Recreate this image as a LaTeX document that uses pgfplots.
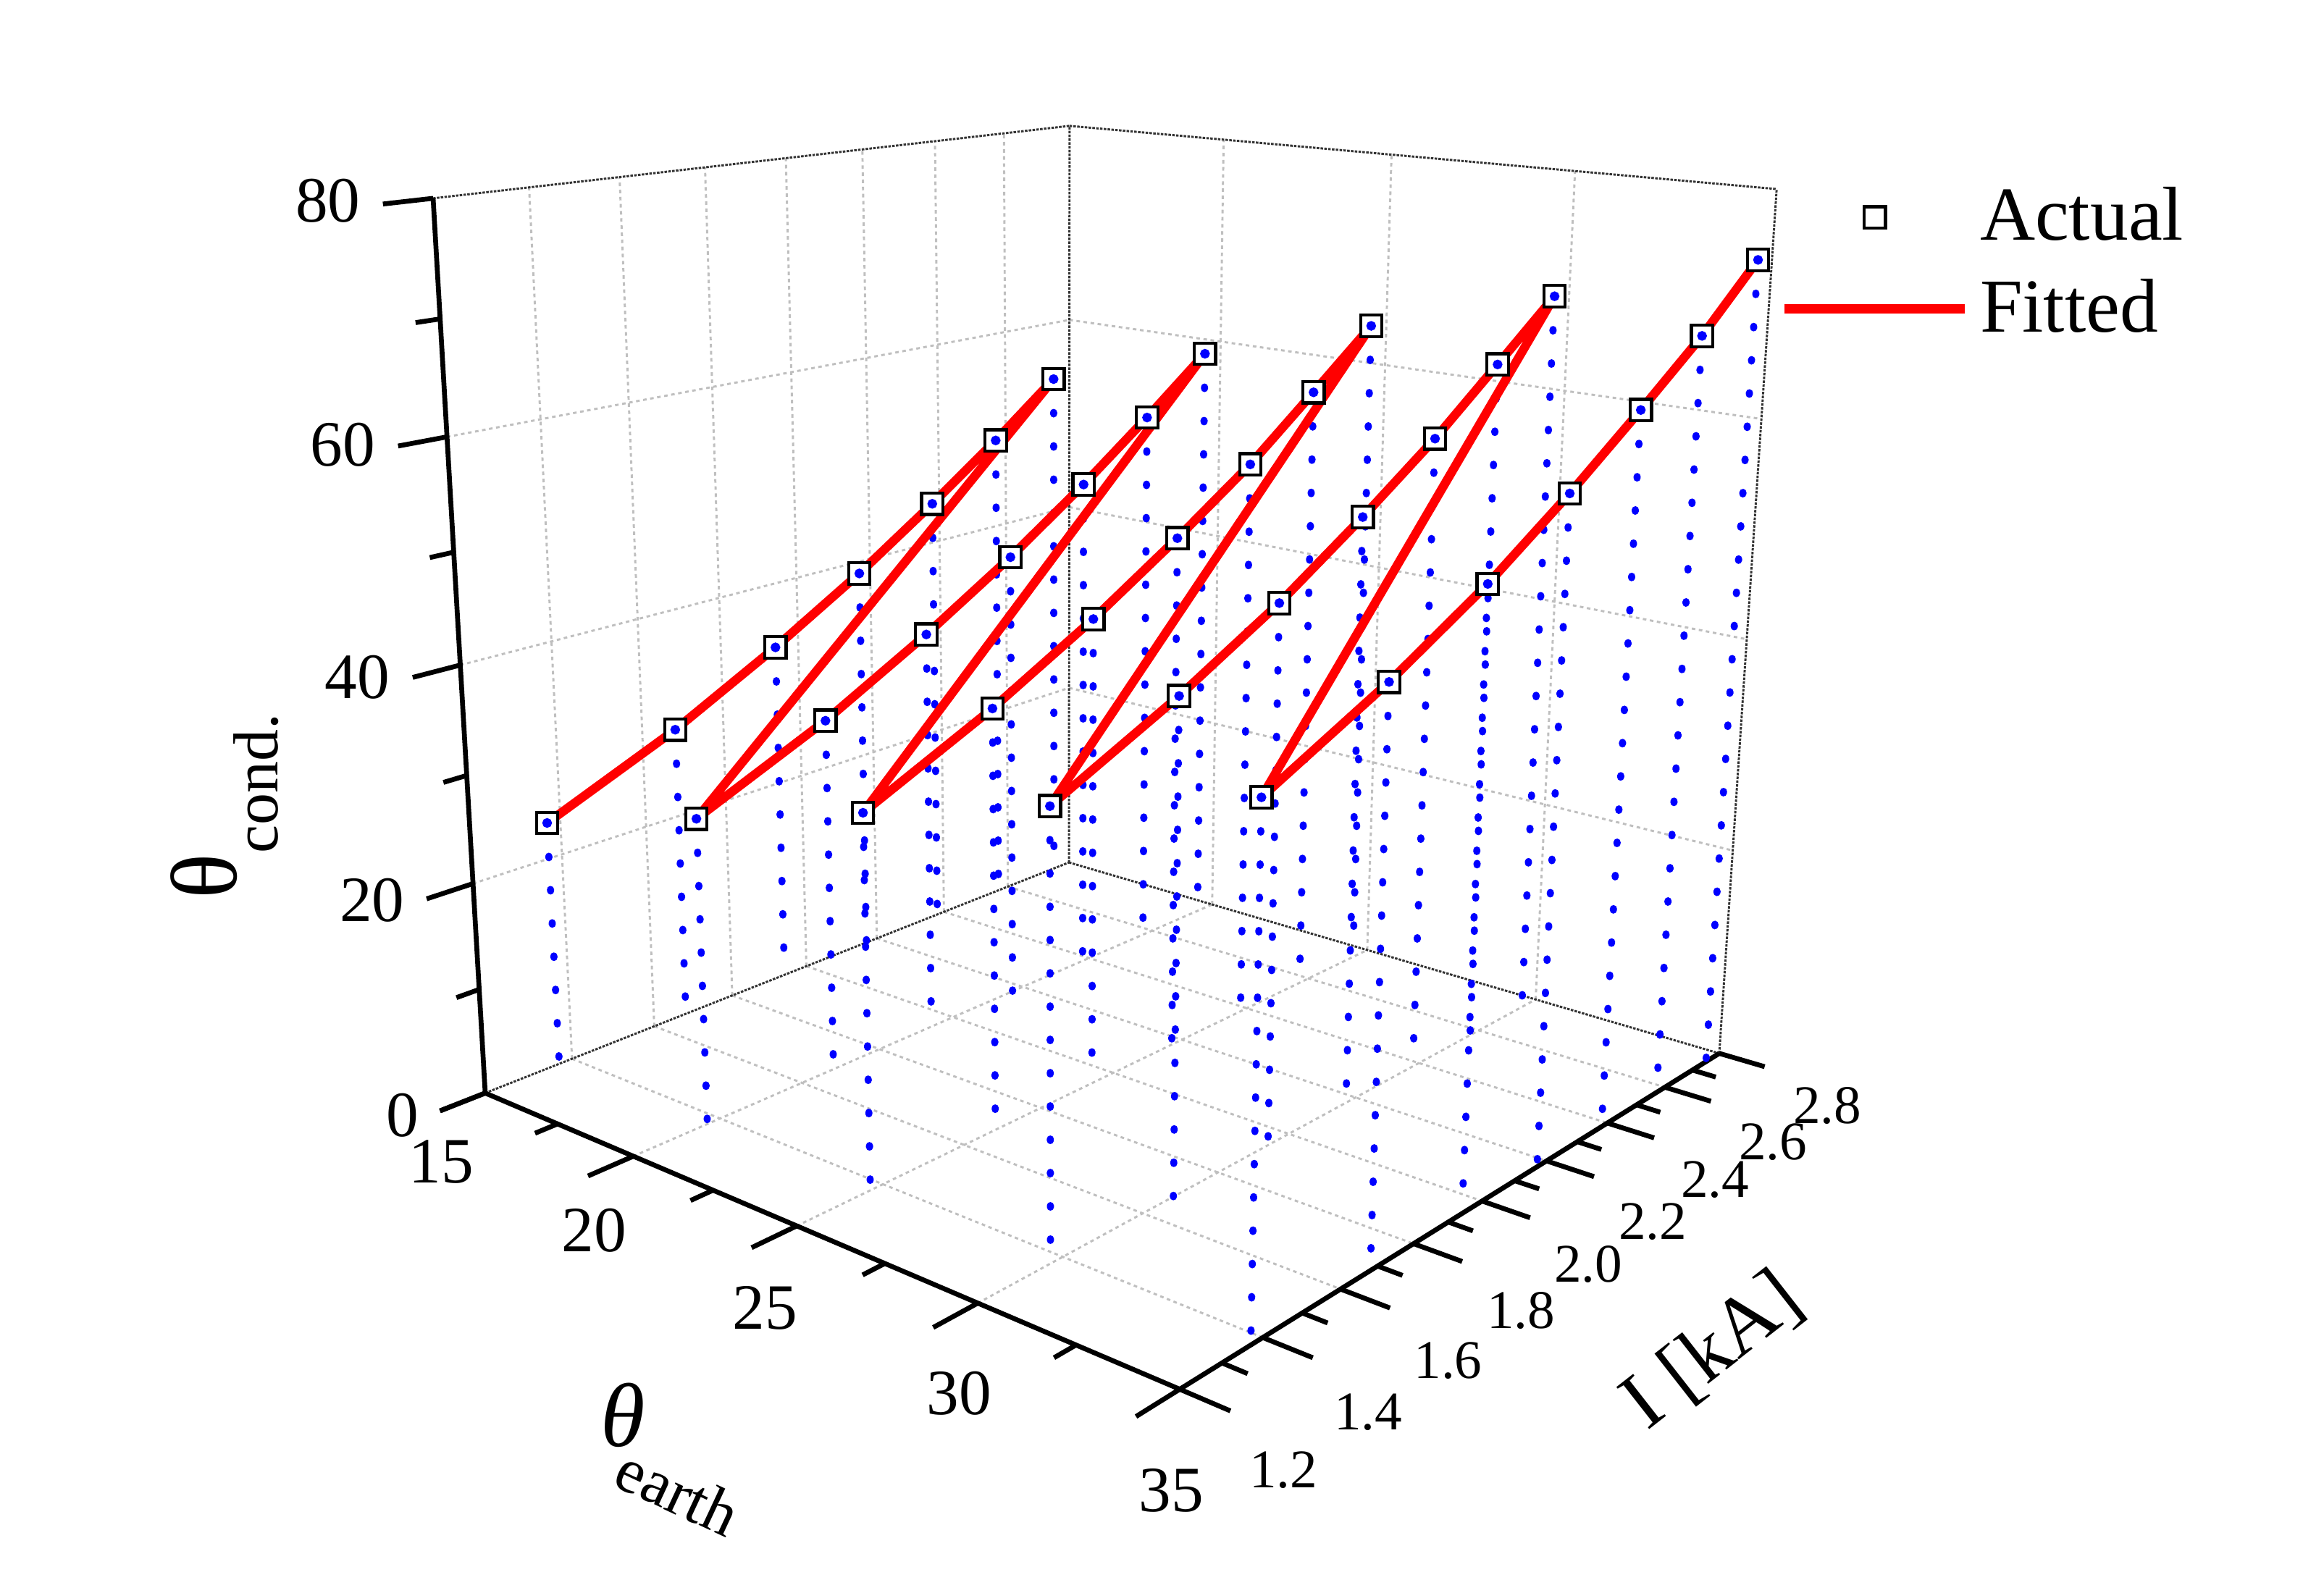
\documentclass[border=0pt]{standalone}
\usepackage{fontspec}
\setmainfont{Liberation Serif}
\usepackage{pgfplots}
\usepackage{pgfplotstable}
\pgfplotsset{compat=1.18}
% perspective of the box: theta_earth 15..35, I 1.2..2.8, theta_cond 0..80
\newcommand\uu{((\thisrow{e}-15)/20)}
\newcommand\vv{((\thisrow{i}-1.2)/1.6)}
\newcommand\ww{(\thisrow{z}/80)}
\newcommand\Den{(1-0.18678*\uu+0.22289*\vv-0.083*\ww)}
\newcommand\PX{((670+654.7*\uu+1135*\vv-121.6*\ww)/\Den)}
\newcommand\PY{((1509.5+50.7*\uu-53*\vv-1258.4*\ww)/\Den)}
\newcommand\seg[7]{\addplot[forget plot,#7] table[x expr=\PX,y expr=\PY,row sep=\\]{e i z\\ #1 #2 #3\\ #4 #5 #6\\};}
\pgfplotstableread{
e i z
15 1.37 23.4
15 1.68 28.5
15 1.94 33.7
15 2.17 38.8
15 2.38 44.0
15 2.57 49.0
15 2.75 54.1
20 1.37 28.3
20 1.68 33.4
20 1.94 38.6
20 2.17 43.7
20 2.38 48.9
20 2.57 54.0
20 2.75 59.1
25 1.37 33.3
25 1.68 38.5
25 1.94 43.6
25 2.17 48.7
25 2.38 53.7
25 2.57 59.0
25 2.75 64.1
30 1.37 38.3
30 1.68 43.5
30 1.94 48.5
30 2.17 53.7
30 2.38 58.8
30 2.57 64.0
30 2.75 69.0
35 1.37 43.4
35 1.68 48.5
35 1.94 53.5
35 2.17 58.7
35 2.38 63.9
35 2.57 68.8
35 2.75 74.2
}\data
\tikzset{
  gridl/.style={color=black!25,line width=0.42pt,dash pattern=on 0.7pt off 0.7pt},
  edgel/.style={color=black!80,line width=0.42pt,dash pattern=on 0.5pt off 0.25pt},
  axl/.style={black,line width=0.95pt},
  dropl/.style={blue,line width=1.4pt,line cap=round,dash pattern=on 0.3pt off 6.24pt},
  lab/.style={inner sep=0pt,font=\fontsize{12.7}{14}\selectfont},
  labi/.style={inner sep=0pt,font=\fontsize{10.7}{12}\selectfont},
}
\begin{document}
\begin{tikzpicture}
\path[use as bounding box] (0,0) rectangle (16.045cm,10.905cm);
\begin{axis}[at={(0,0)},anchor=south west,scale only axis,width=16.045cm,height=10.905cm,
  xmin=0,xmax=3209,ymin=0,ymax=2181,y dir=reverse,hide axis,clip=false,
  legend style={at={(axis cs:2456,243)},anchor=north west,draw=none,fill=none,inner sep=0pt,
    font=\fontsize{15}{17}\selectfont,row sep=2.1pt,cells={anchor=west},
    /tikz/every even column/.append style={column sep=2.4pt}},
  legend cell align=left]
% grid on the two walls and on the floor
\pgfplotsinvokeforeach{1.4,1.6,1.8,2.0,2.2,2.4,2.6}{%
  \seg{15}{#1}{0}{15}{#1}{80}{gridl}
  \seg{15}{#1}{0}{35}{#1}{0}{gridl}}
\pgfplotsinvokeforeach{20,25,30}{%
  \seg{#1}{2.8}{0}{#1}{2.8}{80}{gridl}
  \seg{#1}{1.2}{0}{#1}{2.8}{0}{gridl}}
\pgfplotsinvokeforeach{20,40,60}{%
  \seg{15}{1.2}{#1}{15}{2.8}{#1}{gridl}
  \seg{15}{2.8}{#1}{35}{2.8}{#1}{gridl}}
% thin box edges
\seg{15}{1.2}{0}{15}{2.8}{0}{edgel}
\seg{15}{2.8}{0}{35}{2.8}{0}{edgel}
\seg{15}{1.2}{80}{15}{2.8}{80}{edgel}
\seg{15}{2.8}{80}{35}{2.8}{80}{edgel}
\seg{15}{2.8}{0}{15}{2.8}{80}{edgel}
\seg{35}{2.8}{0}{35}{2.8}{80}{edgel}
% axes and ticks
\seg{15}{1.2}{0}{35}{1.2}{0}{axl}
\seg{35}{1.2}{0}{35}{2.8}{0}{axl}
\seg{15}{1.2}{0}{15}{1.2}{80}{axl}
\pgfplotsinvokeforeach{15,20,25,30,35}{\seg{#1}{1.2}{0}{#1}{1.10}{0}{axl}}
\pgfplotsinvokeforeach{17.5,22.5,27.5,32.5}{\seg{#1}{1.2}{0}{#1}{1.15}{0}{axl}}
\pgfplotsinvokeforeach{1.2,1.4,1.6,1.8,2.0,2.2,2.4,2.6,2.8}{\seg{35}{#1}{0}{36.17}{#1}{0}{axl}}
\pgfplotsinvokeforeach{1.3,1.5,1.7,1.9,2.1,2.3,2.5,2.7}{\seg{35}{#1}{0}{35.6}{#1}{0}{axl}}
\pgfplotsinvokeforeach{0,20,40,60,80}{\seg{15}{1.2}{#1}{15}{1.10}{#1}{axl}}
\pgfplotsinvokeforeach{10,30,50,70}{\seg{15}{1.2}{#1}{15}{1.15}{#1}{axl}}
% drop lines
\pgfplotsforeachungrouped \r in {0,...,34}{%
  \pgfplotstablegetelem{\r}{e}\of\data\let\de\pgfplotsretval
  \pgfplotstablegetelem{\r}{i}\of\data\let\di\pgfplotsretval
  \pgfplotstablegetelem{\r}{z}\of\data\let\dz\pgfplotsretval
  \edef\temp{\noexpand\seg{\de}{\di}{\dz}{\de}{\di}{0}{dropl}}\temp
}
% actual points
\addplot[forget plot,only marks,mark=square*,mark size=2.1pt,
  mark options={draw=black,fill=white,line width=0.6pt}]
  table[x expr=\PX,y expr=\PY] {\data};
% fitted line
\addplot[forget plot,red,line width=1.75pt,line join=round,no marks]
  table[x expr=\PX,y expr=\PY] {\data};
\addplot[forget plot,only marks,mark=*,mark size=0.75pt,blue,mark options={draw=blue,fill=blue}]
  table[x expr=\PX,y expr=\PY] {\data};
% legend
\addlegendimage{legend image code/.code={\path[draw=none,fill=none] (0pt,0pt) -- (35.5pt,0pt);\draw[black,fill=white,line width=0.6pt] (15.65pt,-2.1pt) rectangle (19.85pt,2.1pt);}}
\addlegendentry{Actual}
\addlegendimage{legend image code/.code={\draw[red,line width=1.85pt] (0pt,0pt) -- (35.5pt,0pt);}}
\addlegendentry{Fitted}
% tick labels
\node[lab] at (axis cs:452.7,277) {80};
\node[lab] at (axis cs:473.4,614) {60};
\node[lab] at (axis cs:493,935) {40};
\node[lab] at (axis cs:513.8,1243) {20};
\node[lab] at (axis cs:555.8,1540) {0};
\node[lab] at (axis cs:609.4,1604) {15};
\node[lab] at (axis cs:820,1699) {20};
\node[lab] at (axis cs:1056,1806) {25};
\node[lab] at (axis cs:1324,1924) {30};
\node[lab] at (axis cs:1617,2058.6) {35};
\node[labi] at (axis cs:1772,2030) {1.2};
\node[labi] at (axis cs:1889,1950.5) {1.4};
\node[labi] at (axis cs:1999.5,1879) {1.6};
\node[labi] at (axis cs:2100,1810) {1.8};
\node[labi] at (axis cs:2193,1746) {2.0};
\node[labi] at (axis cs:2282,1687) {2.2};
\node[labi] at (axis cs:2368,1629) {2.4};
\node[labi] at (axis cs:2448,1577) {2.6};
\node[labi] at (axis cs:2523,1527) {2.8};
% axis titles
\node[inner sep=0pt,rotate=38,font=\fontsize{16}{18}\selectfont] at (axis cs:2365,1866) {I [kA]};
\node[inner sep=0pt,font=\fontsize{17.8}{20}\selectfont\itshape] at (axis cs:860,1954) {θ};
\node[inner sep=0pt,rotate=-25,font=\fontsize{12.5}{15}\selectfont] at (axis cs:936,2060) {earth};
\node[inner sep=0pt,rotate=90,font=\fontsize{18.5}{20}\selectfont] at (axis cs:281.7,1210.7) {θ};
\node[inner sep=0pt,rotate=90,font=\fontsize{12.5}{14}\selectfont] at (axis cs:354,1081.6) {cond.};
\end{axis}
\end{tikzpicture}
\end{document}
